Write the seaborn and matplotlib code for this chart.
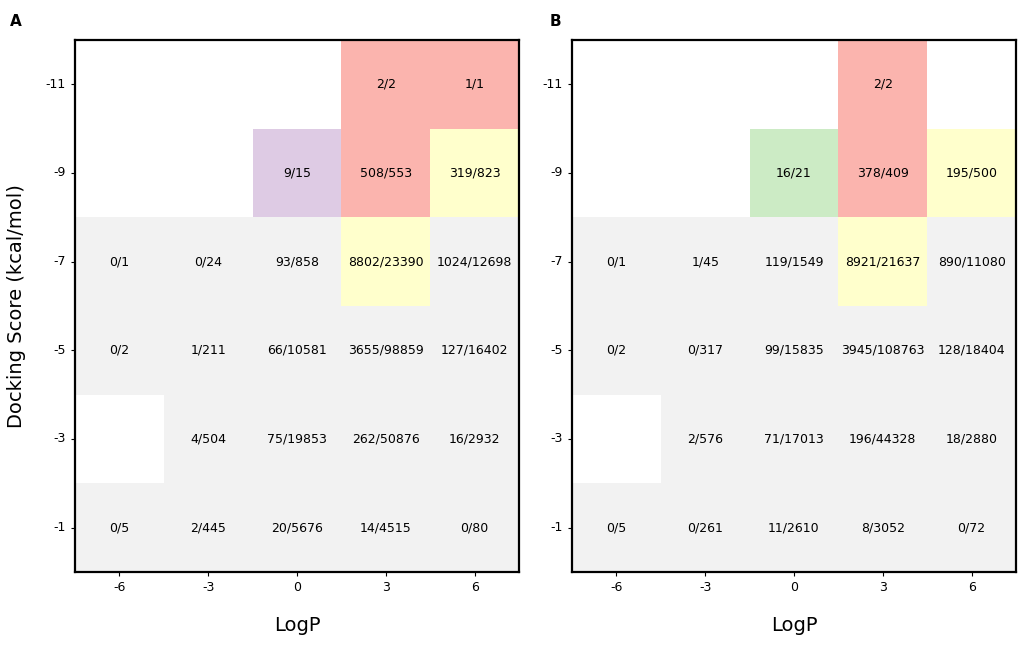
import matplotlib
matplotlib.use("Agg")
import matplotlib.pyplot as plt
import numpy as np
import pandas as pd
import seaborn as sns
from matplotlib.colors import ListedColormap

logp = [-6, -3, 0, 3, 6]
docking = [-11, -9, -7, -5, -3, -1]

# cell text (hits / total); "" means no compounds in that bin
labels_a = [
    ["", "", "", "2/2", "1/1"],
    ["", "", "9/15", "508/553", "319/823"],
    ["0/1", "0/24", "93/858", "8802/23390", "1024/12698"],
    ["0/2", "1/211", "66/10581", "3655/98859", "127/16402"],
    ["", "4/504", "75/19853", "262/50876", "16/2932"],
    ["0/5", "2/445", "20/5676", "14/4515", "0/80"],
]
labels_b = [
    ["", "", "", "2/2", ""],
    ["", "", "16/21", "378/409", "195/500"],
    ["0/1", "1/45", "119/1549", "8921/21637", "890/11080"],
    ["0/2", "0/317", "99/15835", "3945/108763", "128/18404"],
    ["", "2/576", "71/17013", "196/44328", "18/2880"],
    ["0/5", "0/261", "11/2610", "8/3052", "0/72"],
]

# cell classes: 0 none, 1 gray, 2 red, 3 yellow, 4 purple, 5 green
classes_a = [
    [0, 0, 0, 2, 2],
    [0, 0, 4, 2, 3],
    [1, 1, 1, 3, 1],
    [1, 1, 1, 1, 1],
    [0, 1, 1, 1, 1],
    [1, 1, 1, 1, 1],
]
classes_b = [
    [0, 0, 0, 2, 0],
    [0, 0, 5, 2, 3],
    [1, 1, 1, 3, 1],
    [1, 1, 1, 1, 1],
    [0, 1, 1, 1, 1],
    [1, 1, 1, 1, 1],
]

palette = ["#ffffff", "#f2f2f2", "#fbb4ae", "#ffffcc", "#decbe4", "#ccebc5"]
cmap = ListedColormap(palette)

sns.set_style("white")
plt.rcParams["font.family"] = ["DejaVu Sans"]
plt.rcParams["text.color"] = "black"
plt.rcParams["axes.labelcolor"] = "black"
plt.rcParams["xtick.color"] = "black"
plt.rcParams["ytick.color"] = "black"

fig = plt.figure(figsize=(10.21, 6.46), dpi=100)
ax_a = fig.add_axes([0.0735, 0.1146, 0.4349, 0.8235])
ax_b = fig.add_axes([0.5602, 0.1146, 0.4349, 0.8235])


def draw_panel(ax, classes, labels, ylabel):
    grid = pd.DataFrame(classes, index=docking, columns=logp)
    mask = grid.values == 0
    sns.heatmap(
        grid,
        mask=mask,
        cmap=cmap,
        vmin=-0.5,
        vmax=len(palette) - 0.5,
        annot=np.array(labels),
        fmt="",
        annot_kws={"fontsize": 9, "color": "black"},
        cbar=False,
        square=False,
        ax=ax,
    )
    for side in ax.spines.values():
        side.set_visible(True)
        side.set_color("black")
        side.set_linewidth(1.6)
    ax.tick_params(axis="both", which="both", length=3, width=0.8,
                   left=True, bottom=True, labelsize=9, color="black")
    ax.set_yticklabels([str(v) for v in docking], rotation=0)
    ax.set_xticklabels([str(v) for v in logp], rotation=0)
    ax.set_xlabel("LogP", fontsize=14, labelpad=16)
    if ylabel:
        ax.set_ylabel("Docking Score (kcal/mol)", fontsize=14, labelpad=14)
    else:
        ax.set_ylabel("")


draw_panel(ax_a, classes_a, labels_a, True)
draw_panel(ax_b, classes_b, labels_b, False)

fig.text(10 / 1021, 1 - 22 / 646, "A", fontsize=11, fontweight="bold", va="center")
fig.text(550 / 1021, 1 - 22 / 646, "B", fontsize=11, fontweight="bold", va="center")

fig.savefig("out.png", dpi=100)
